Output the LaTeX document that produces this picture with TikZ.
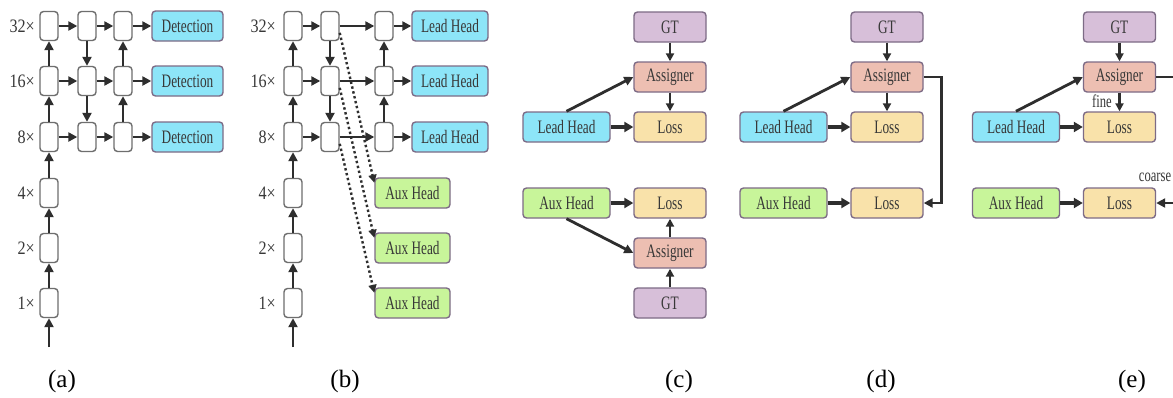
\documentclass[tikz,border=0pt]{standalone}
\usepackage{fontspec}
\setmainfont{Liberation Serif}
\newfontfamily\condfont[FakeStretch=0.7]{Liberation Serif}
\newfontfamily\lvlfont[FakeStretch=0.85]{Liberation Serif}
\usetikzlibrary{arrows.meta}
\definecolor{arrowc}{HTML}{2E2E2E}
\definecolor{cellborder}{HTML}{6E6E6E}
\definecolor{boxborder}{HTML}{7D6B86}
\definecolor{cyanf}{HTML}{8DE5F8}
\definecolor{greenf}{HTML}{C8F59A}
\definecolor{gtf}{HTML}{D7BFD9}
\definecolor{asgf}{HTML}{EDBFB2}
\definecolor{lossf}{HTML}{F9E2AA}
\begin{document}
\begin{tikzpicture}[x=1pt,y=-1pt,
  every node/.style={font=\condfont\fontsize{19}{22}\selectfont, inner sep=0pt, text=black!78},
  cell/.style={draw=cellborder, fill=white, rounded corners=3.5pt, line width=1.4pt, minimum width=18pt, minimum height=29pt},
  box/.style={draw=boxborder, rounded corners=3.5pt, line width=1.4pt, minimum height=30pt},
  det/.style={box, fill=cyanf, minimum width=71pt},
  leadb/.style={box, fill=cyanf, minimum width=76pt},
  auxb/.style={box, fill=greenf, minimum width=75pt},
  leadc/.style={box, fill=cyanf, minimum width=87pt},
  auxc/.style={box, fill=greenf, minimum width=87pt},
  gtbox/.style={box, fill=gtf, minimum width=72pt},
  asgbox/.style={box, fill=asgf, minimum width=72pt},
  lossbox/.style={box, fill=lossf, minimum width=72pt},
  lvl/.style={anchor=east, font=\lvlfont\fontsize{19}{22}\selectfont},
  capt/.style={font=\fontsize{25}{28}\selectfont, text=black},
  small/.style={font=\condfont\fontsize{18}{20}\selectfont},
  arr/.style={draw=arrowc, line width=2.8pt, -{Triangle[length=9pt,width=9pt]}},
  thinarr/.style={draw=arrowc, line width=2.2pt, -{Triangle[length=8pt,width=8pt]}},
  wide/.style={draw=arrowc, line width=3.2pt, -{Triangle[length=9pt,width=10pt]}},
  dotarr/.style={draw=arrowc, line width=2.4pt, dash pattern=on 2.4pt off 2.6pt, -{Triangle[length=8pt,width=8pt]}},
]
\clip (0,0) rectangle (1173,397);
\fill[white] (0,0) rectangle (1173,397);

% ================= (a) =================
\foreach \r/\y/\t in {32/26/32, 16/81/16, 8/137/8, 4/193/4, 2/248/2, 1/303/1}{
  \node[cell] (a1-\r) at (49,\y) {};
  \node[lvl] (al-\r) at (35,\y) {\t×};
}
\foreach \r/\y in {32/26, 16/81, 8/137}{
  \node[cell] (a2-\r) at (87,\y) {};
  \node[cell] (a3-\r) at (123,\y) {};
  \node[det] (ad-\r) at (187.5,\y) {Detection};
  \draw[arr] (a1-\r) -- (a2-\r);
  \draw[arr] (a2-\r) -- (a3-\r);
  \draw[arr] (a3-\r) -- (ad-\r);
}
\coordinate (ain) at (49,347);
\draw[arr] (ain) -- (a1-1);
\draw[arr] (a1-1) -- (a1-2);
\draw[arr] (a1-2) -- (a1-4);
\draw[arr] (a1-4) -- (a1-8);
\draw[arr] (a1-8) -- (a1-16);
\draw[arr] (a1-16) -- (a1-32);
\draw[arr] (a2-32) -- (a2-16);
\draw[arr] (a2-16) -- (a2-8);
\draw[arr] (a3-8) -- (a3-16);
\draw[arr] (a3-16) -- (a3-32);
\node[capt] (capa) at (62,381) {(a)};

% ================= (b) =================
\foreach \r/\y/\t in {32/26/32, 16/81/16, 8/137/8, 4/193/4, 2/248/2, 1/303/1}{
  \node[cell] (b1-\r) at (293,\y) {};
  \node[lvl] (bl-\r) at (276,\y) {\t×};
}
\foreach \r/\y in {32/26, 16/81, 8/137}{
  \node[cell] (b2-\r) at (330,\y) {};
  \node[cell] (b3-\r) at (384,\y) {};
  \node[leadb] (bd-\r) at (450,\y) {Lead Head};
  \draw[arr] (b1-\r) -- (b2-\r);
  \draw[arr] (b2-\r) -- (b3-\r);
  \draw[arr] (b3-\r) -- (bd-\r);
}
\node[auxb] (bx-1) at (412.5,193) {Aux Head};
\node[auxb] (bx-2) at (412.5,248) {Aux Head};
\node[auxb] (bx-3) at (412.5,303) {Aux Head};
\coordinate (bin) at (293,347);
\draw[arr] (bin) -- (b1-1);
\draw[arr] (b1-1) -- (b1-2);
\draw[arr] (b1-2) -- (b1-4);
\draw[arr] (b1-4) -- (b1-8);
\draw[arr] (b1-8) -- (b1-16);
\draw[arr] (b1-16) -- (b1-32);
\draw[arr] (b2-32) -- (b2-16);
\draw[arr] (b2-16) -- (b2-8);
\draw[arr] (b3-8) -- (b3-16);
\draw[arr] (b3-16) -- (b3-32);
\draw[dotarr] (b2-32.-35) -- (bx-1.165);
\draw[dotarr] (b2-16.-35) -- (bx-2.165);
\draw[dotarr] (b2-8.-35) -- (bx-3.165);
\node[capt] (capb) at (345,381) {(b)};

% ================= (c) =================
\node[gtbox] (cG1) at (670,27) {GT};
\node[asgbox] (cA1) at (670,77) {Assigner};
\node[lossbox] (cL1) at (670,127) {Loss};
\node[leadc] (cH1) at (566.5,127) {Lead Head};
\node[lossbox] (cL2) at (670,203) {Loss};
\node[asgbox] (cA2) at (670,253) {Assigner};
\node[gtbox] (cG2) at (670,303) {GT};
\node[auxc] (cH2) at (566.5,203) {Aux Head};
\draw[thinarr] (cG1) -- (cA1);
\draw[thinarr] (cA1) -- (cL1);
\draw[wide] (cH1) -- (cL1);
\draw[arr] (cH1.north) -- (cA1.west);
\draw[wide] (cH2) -- (cL2);
\draw[arr] (cH2.south) -- (cA2.west);
\draw[thinarr] (cA2) -- (cL2);
\draw[thinarr] (cG2) -- (cA2);
\node[capt] (capc) at (679,381) {(c)};

% ================= (d) =================
\node[gtbox] (dG) at (887,27) {GT};
\node[asgbox] (dA) at (887,77) {Assigner};
\node[lossbox] (dL1) at (887,127) {Loss};
\node[leadc] (dH1) at (783.5,127) {Lead Head};
\node[lossbox] (dL2) at (887,203) {Loss};
\node[auxc] (dH2) at (783.5,203) {Aux Head};
\draw[thinarr] (dG) -- (dA);
\draw[thinarr] (dA) -- (dL1);
\draw[wide] (dH1) -- (dL1);
\draw[arr] (dH1.north) -- (dA.west);
\draw[wide] (dH2) -- (dL2);
\draw[arr] (dA.east) -- ++(18,0) |- (dL2.east);
\node[capt] (capd) at (881,381) {(d)};

% ================= (e) =================
\node[gtbox] (eG) at (1119.5,27) {GT};
\node[asgbox] (eA) at (1119.5,77) {Assigner};
\node[lossbox] (eL1) at (1119.5,127) {Loss};
\node[leadc] (eH1) at (1016,127) {Lead Head};
\node[lossbox] (eL2) at (1119.5,203) {Loss};
\node[auxc] (eH2) at (1016,203) {Aux Head};
\draw[thinarr] (eG) -- (eA);
\draw[thinarr] (eA) -- (eL1);
\draw[wide] (eH1) -- (eL1);
\draw[arr] (eH1.north) -- (eA.west);
\draw[wide] (eH2) -- (eL2);
\draw[arr] (eA.east) -- ++(22,0) |- (eL2.east);
\node[small] (fine) at (1102,101) {fine};
\node[small] (coarse) at (1155,177) {coarse};
\node[capt] (cape) at (1132,381) {(e)};
\end{tikzpicture}
\end{document}
